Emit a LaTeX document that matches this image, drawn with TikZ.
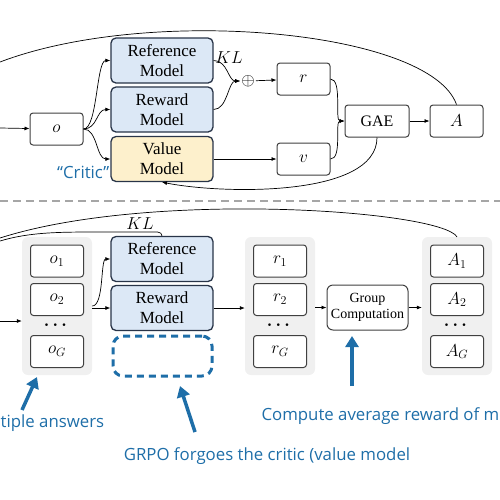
\documentclass[tikz,border=0pt]{standalone}
\usepackage{amsmath,amssymb}
\usepackage{fontspec}
\setmainfont{Liberation Serif}
\newfontfamily\notefont{Open Sans}
\usetikzlibrary{positioning,arrows.meta}

\definecolor{refblue}{RGB}{220,232,246}
\definecolor{valyellow}{RGB}{253,240,204}
\definecolor{navy}{RGB}{40,52,72}
\definecolor{notecol}{RGB}{30,110,168}
\definecolor{grpgray}{RGB}{240,240,240}

\begin{document}
\begin{tikzpicture}[x=1pt, y=-1pt,
    every node/.style={font=\fontsize{17}{20}\selectfont},
    model/.style={draw=navy, line width=1.3pt, rounded corners=5pt, minimum width=102pt,
        minimum height=45pt, align=center, inner sep=0pt},
    pbox/.style={draw=black!75, fill=white, line width=1pt, rounded corners=3pt,
        minimum width=53pt, minimum height=32pt, inner sep=0pt},
    grp/.style={fill=grpgray, rounded corners=6pt, minimum width=70pt, minimum height=138pt},
    conn/.style={-{Latex[length=5pt,width=4pt]}, line width=0.7pt},
    wire/.style={line width=0.7pt},
    note/.style={text=notecol, font=\notefont\fontsize{16.8}{17}\selectfont},
    callout/.style={draw=notecol, line width=3.5pt, -{Triangle[length=11pt,width=13pt]}}]

    \useasboundingbox (0,0) rectangle (500,499);

    % PPO
    \node[pbox] (o) at (56.5,129) {$o$};
    \node[model, fill=refblue] (ref) at (162,60.5) {Reference\\Model};
    \node[model, fill=refblue] (rew) at (162,109.5) {Reward\\Model};
    \node[model, fill=valyellow] (val) at (162,159) {Value\\Model};
    \node[note, anchor=east, inner sep=1pt] (critic) at (val.south west) [yshift=10pt] {“Critic”};
    \node[inner sep=1pt] (plus) at (248,81) {$\oplus$};
    \node[pbox] (r) at (303.5,79) {$r$};
    \node[pbox] (v) at (303.5,159) {$v$};
    \node[pbox, minimum width=64pt, font=\fontsize{16}{16}\selectfont] (gae) at (377,121) {GAE};
    \node[pbox] (A) at (456.5,121) {$A$};
    \node (kl) at (229,58) {$KL$};

    \coordinate (in1) at (0,128);
    \coordinate (top1) at (0,62);
    \draw[conn] (in1) -- (o);
    \draw[conn] (o.east) .. controls +(14,0) and +(-14,0) .. (ref.west);
    \draw[conn] (o.east) .. controls +(14,0) and +(-14,0) .. (rew.west);
    \draw[conn] (o.east) .. controls +(14,0) and +(-14,0) .. (val.west);
    \draw[conn] (ref.east) .. controls +(14,0) and +(-12,0) .. (plus.west);
    \draw[conn] (rew.east) .. controls +(14,0) and +(-12,0) .. (plus.west);
    \draw[conn] (plus) -- (r);
    \draw[conn] (val.east) -- (v.west);
    \draw[conn] (r.east) .. controls +(12,0) and +(-10,0) .. (gae.west);
    \draw[conn] (v.east) .. controls +(12,0) and +(-10,0) .. (gae.west);
    \draw[conn] (gae) -- (A);
    \draw[conn] (gae.south) .. controls +(0,60) and +(60,12) .. (val.south);
    \draw[wire] (top1) .. controls (150,5) and (430,30) .. (A.north);

    \draw[gray!70, line width=1.3pt, dash pattern=on 8pt off 5pt] (0,201) -- (500,201);

    % GRPO
    \foreach \col/\cx in {o/57, r/280, A/457} {
        \node[grp] (\col grp) at (\cx,306) {};
        \node[pbox] (\col1) at (\cx,261) {$\col_1$};
        \node[pbox] (\col2) at (\cx,299.5) {$\col_2$};
        \node (\col dots) at (\cx,325) {$\boldsymbol{\cdots}$};
        \node[pbox] (\col G) at (\cx,351.5) {$\col_G$};
    }
    \node[model, fill=refblue] (ref2) at (162,259) {Reference\\Model};
    \node[model, fill=refblue] (rew2) at (162,308) {Reward\\Model};
    \node[draw=notecol, line width=3pt, dash pattern=on 7pt off 5pt, rounded corners=10pt,
        minimum width=99pt, minimum height=40pt] (nocritic) at (162.5,356) {};
    \node[pbox, minimum width=81pt, minimum height=45pt, rounded corners=6pt, align=center,
        font=\fontsize{14}{16}\selectfont] (gc) at (367.5,307.5) {Group\\Computation};
    \node (kl2) at (140,224) {$KL$};

    \coordinate (in2) at (0,321);
    \coordinate (top2) at (0,238);
    \coordinate (side2) at (0,241);
    \draw[conn] (in2) -- (in2 -| ogrp.west);
    \draw[conn] (ogrp.east) .. controls +(12,0) and +(-10,0) .. (ref2.west);
    \draw[conn] (ogrp.east |- rew2.west) -- (rew2.west);
    \draw[conn] (rew2.east) -- (rew2.east -| rgrp.west);
    \draw[conn] (rgrp.east |- gc.west) -- (gc.west);
    \draw[conn] (gc.east) -- (gc.east -| Agrp.west);
    \draw[wire] (top2) .. controls (150,190) and (440,210) .. (Agrp.north);
    \draw[wire] (side2) .. controls (30,232) and (60,232) .. (100,232) -- (150,232)
        to[out=0,in=90] (ref2.north);

    % notes
    \coordinate (tail1) at (22,410);
    \coordinate (tip1) at (37,377);
    \coordinate (tail2) at (195,432);
    \coordinate (tip2) at (180,386);
    \coordinate (tail3) at (352,386);
    \coordinate (tip3) at (352,336);
    \draw[callout] (tail1) -- (tip1);
    \draw[callout] (tail2) -- (tip2);
    \draw[callout] (tail3) -- (tip3);
    \node[note, anchor=west, inner sep=0.5pt] (multi) at (0,423) {tiple answers};
    \node[note] (forgo) at (267,456) {GRPO forgoes the critic (value model};
    \node[note, anchor=east, inner sep=0.5pt] (avg) at (500,416) {Compute average reward of m};
\end{tikzpicture}
\end{document}
